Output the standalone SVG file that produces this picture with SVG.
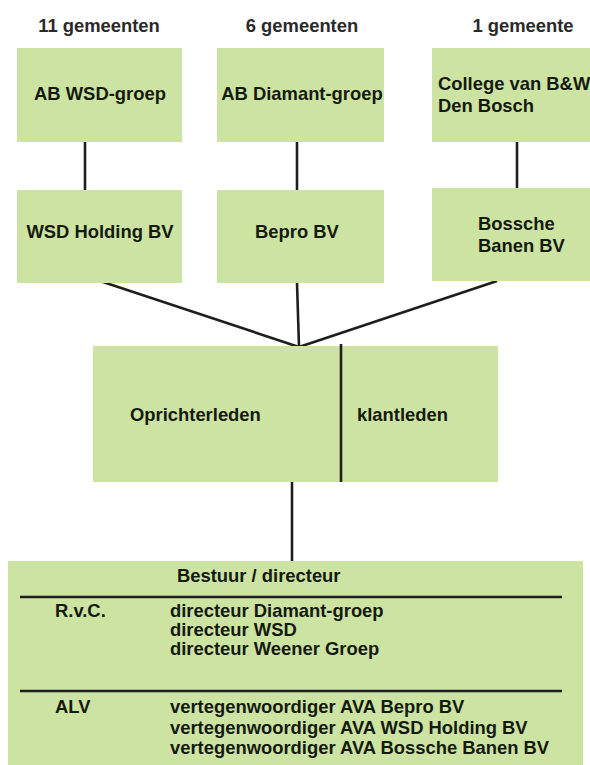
<svg xmlns="http://www.w3.org/2000/svg" width="590" height="765" viewBox="0 0 590 765">
<style>
.box{fill:#cde3a2}
.t{font-family:"Liberation Sans",Arial,sans-serif;font-weight:bold;font-size:18.4px;fill:#141a10}
.h{font-family:"Liberation Sans",Arial,sans-serif;font-weight:bold;font-size:18.4px;fill:#2a2a2a}
.c{text-anchor:middle}
.ln{stroke:#1e1e1e;stroke-width:2.6;fill:none}
</style>
<rect width="590" height="765" fill="#ffffff"/>
<g id="titles">
<text class="h c" x="99" y="32">11 gemeenten</text>
<text class="h c" x="302" y="32">6 gemeenten</text>
<text class="h c" x="523" y="32">1 gemeente</text>
</g>
<g id="connectors">
<line class="ln" x1="85" y1="142" x2="85" y2="190"/>
<line class="ln" x1="297" y1="142" x2="297" y2="190"/>
<line class="ln" x1="517" y1="142" x2="517" y2="188"/>
<line class="ln" x1="103" y1="282" x2="299" y2="347"/>
<line class="ln" x1="297" y1="283" x2="299" y2="347"/>
<line class="ln" x1="497" y1="281" x2="299" y2="347"/>
<line class="ln" x1="292" y1="482" x2="292" y2="561"/>
</g>
<g id="ab-wsd">
<rect class="box" x="17" y="48" width="165" height="94"/>
<text class="t c" x="100" y="100">AB WSD-groep</text>
</g>
<g id="ab-diamant">
<rect class="box" x="217" y="48" width="167" height="94"/>
<text class="t c" x="302" y="100">AB Diamant-groep</text>
</g>
<g id="college">
<rect class="box" x="432" y="48" width="160" height="94"/>
<text class="t" x="438" y="90">College van B&amp;W</text>
<text class="t" x="438" y="112">Den Bosch</text>
</g>
<g id="wsd-holding">
<rect class="box" x="17" y="190" width="165" height="93"/>
<text class="t c" x="100" y="238">WSD Holding BV</text>
</g>
<g id="bepro">
<rect class="box" x="217" y="190" width="167" height="93"/>
<text class="t c" x="297" y="238">Bepro BV</text>
</g>
<g id="bossche">
<rect class="box" x="432" y="188" width="160" height="93"/>
<text class="t" x="478" y="230">Bossche</text>
<text class="t" x="478" y="252">Banen BV</text>
</g>
<g id="leden">
<rect class="box" x="93" y="346" width="405" height="136"/>
<line class="ln" x1="341" y1="344" x2="341" y2="482"/>
<text class="t" x="130" y="421">Oprichterleden</text>
<text class="t" x="357" y="421">klantleden</text>
</g>
<g id="bestuur">
<rect class="box" x="8" y="561" width="575" height="210"/>
<text class="t" x="177" y="582">Bestuur / directeur</text>
<line class="ln" x1="20" y1="597" x2="562" y2="597"/>
<text class="t" x="55" y="617">R.v.C.</text>
<text class="t" x="170" y="617">directeur Diamant-groep</text>
<text class="t" x="170" y="636">directeur WSD</text>
<text class="t" x="170" y="655">directeur Weener Groep</text>
<line class="ln" x1="20" y1="691" x2="562" y2="691"/>
<text class="t" x="55" y="713">ALV</text>
<text class="t" x="170" y="713">vertegenwoordiger AVA Bepro BV</text>
<text class="t" x="170" y="734">vertegenwoordiger AVA WSD Holding BV</text>
<text class="t" x="170" y="754">vertegenwoordiger AVA Bossche Banen BV</text>
</g>
</svg>
